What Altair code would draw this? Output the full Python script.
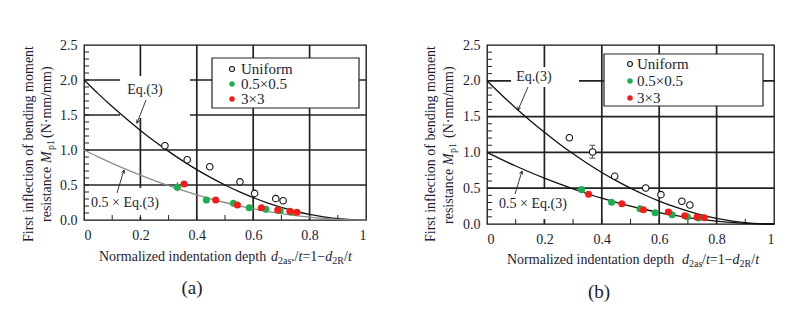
import math
import altair as alt
import pandas as pd

FONT = "'Liberation Serif', 'Times New Roman', serif"
TXT = "#1b1b38"
GREEN = "#1caf52"
RED = "#f41c18"
GRID = "#222222"

# theoretical curves
curve_x = [0.0, 0.05, 0.1, 0.15, 0.2, 0.25, 0.3, 0.35, 0.4, 0.45, 0.5,
           0.55, 0.6, 0.65, 0.7, 0.75, 0.8, 0.85, 0.9, 0.95, 1.0]
eq3_y = [2.0, 1.805, 1.62, 1.445, 1.28, 1.125, 0.98, 0.845, 0.72, 0.605, 0.5,
         0.405, 0.32, 0.245, 0.18, 0.125, 0.08, 0.045, 0.02, 0.005, 0.0]
half_eq3_y = [1.0, 0.9025, 0.81, 0.7225, 0.64, 0.5625, 0.49, 0.4225, 0.36, 0.3025, 0.25,
              0.2025, 0.16, 0.1225, 0.09, 0.0625, 0.04, 0.0225, 0.01, 0.0025, 0.0]

x_ticks = [0, 0.2, 0.4, 0.6, 0.8, 1]
y_ticks = [0, 0.5, 1.0, 1.5, 2.0, 2.5]
x_grid = [0.2, 0.4, 0.6, 0.8]
y_grid = [0.5, 1.0, 1.5, 2.0]
x_minor = [0.1, 0.2, 0.3, 0.4, 0.5, 0.6, 0.7, 0.8, 0.9]
y_minor = [0.1, 0.2, 0.3, 0.4, 0.5, 0.6, 0.7, 0.8, 0.9, 1.0, 1.1, 1.2, 1.3, 1.4,
           1.5, 1.6, 1.7, 1.8, 1.9, 2.0, 2.1, 2.2, 2.3, 2.4]

legend_labels = ["Uniform", "0.5×0.5", "3×3"]

# panel (a)
a_uni_x = [0.287, 0.366, 0.446, 0.553, 0.605, 0.680, 0.706]
a_uni_y = [1.06, 0.86, 0.76, 0.545, 0.38, 0.305, 0.275]
a_grn_x = [0.331, 0.434, 0.530, 0.586, 0.645, 0.696, 0.734]
a_grn_y = [0.467, 0.286, 0.238, 0.176, 0.152, 0.133, 0.114]
a_red_x = [0.355, 0.467, 0.544, 0.629, 0.687, 0.730, 0.755]
a_red_y = [0.514, 0.286, 0.214, 0.176, 0.143, 0.124, 0.110]
a_err = [0.331, 0.41, 0.54]

# panel (b)
b_uni_x = [0.287, 0.368, 0.445, 0.553, 0.606, 0.679, 0.707]
b_uni_y = [1.205, 1.006, 0.666, 0.503, 0.41, 0.317, 0.265]
b_grn_x = [0.330, 0.434, 0.533, 0.586, 0.645, 0.698, 0.736]
b_grn_y = [0.48, 0.303, 0.214, 0.158, 0.13, 0.102, 0.084]
b_red_x = [0.354, 0.470, 0.545, 0.632, 0.689, 0.732, 0.757]
b_red_y = [0.415, 0.284, 0.20, 0.168, 0.116, 0.098, 0.088]
b_err = [0.367, 0.92, 1.10]


def panel(W, H, uni_x, uni_y, grn_x, grn_y, red_x, red_y, err, err_caps,
          half_color, L):
    X = lambda px: px / W
    Y = lambda py: 2.5 * (1 - py / H)
    xs = alt.Scale(domain=[0, 1], nice=False, zero=False)
    ys = alt.Scale(domain=[0, 2.5], nice=False, zero=False)
    xax = alt.Axis(values=x_ticks, grid=False, ticks=False, domain=False,
                   labelFont=FONT, labelFontSize=14, labelColor=TXT, labelPadding=8,
                   title=None,
                   labelExpr="datum.value == 0 ? '0' : datum.value == 1 ? '1' : format(datum.value, '.1f')")
    yax = alt.Axis(values=y_ticks, grid=False, ticks=False, domain=False,
                   labelFont=FONT, labelFontSize=14, labelColor=TXT, labelPadding=7,
                   format=".1f", title=None)

    def ex(f="x"):
        return alt.X(f"{f}:Q", scale=xs, axis=xax, title=None)

    def ey(f="y"):
        return alt.Y(f"{f}:Q", scale=ys, axis=yax, title=None)

    layers = []
    # gridlines
    gx = pd.DataFrame({"x": x_grid, "y": [0.0] * len(x_grid), "y2": [2.5] * len(x_grid)})
    layers.append(alt.Chart(gx).mark_rule(color=GRID, strokeWidth=1.7).encode(
        x=ex(), y=ey(), y2="y2"))
    gy = pd.DataFrame({"y": y_grid, "x": [0.0] * len(y_grid), "x2": [1.0] * len(y_grid)})
    layers.append(alt.Chart(gy).mark_rule(color=GRID, strokeWidth=1.7).encode(
        x=ex(), x2="x2", y=ey()))

    # white boxes hiding gridlines behind labels / legend
    boxes = pd.DataFrame({
        "x": [X(b[0]) for b in L["boxes"]], "x2": [X(b[2]) for b in L["boxes"]],
        "y": [Y(b[1]) for b in L["boxes"]], "y2": [Y(b[3]) for b in L["boxes"]],
    })
    layers.append(alt.Chart(boxes).mark_rect(fill="white", strokeWidth=0).encode(
        x=ex(), x2="x2", y=ey(), y2="y2"))
    lb = L["legend"]
    lbox = pd.DataFrame({"x": [X(lb[0])], "x2": [X(lb[2])], "y": [Y(lb[1])], "y2": [Y(lb[3])]})
    layers.append(alt.Chart(lbox).mark_rect(fill="white", stroke="#222", strokeWidth=1.2).encode(
        x=ex(), x2="x2", y=ey(), y2="y2"))

    # minor ticks (inward)
    mx = pd.DataFrame({"x": x_minor, "y": [0.0] * len(x_minor),
                       "y2": [Y(H - 5)] * len(x_minor)})
    layers.append(alt.Chart(mx).mark_rule(color="#222", strokeWidth=1).encode(
        x=ex(), y=ey(), y2="y2"))
    my = pd.DataFrame({"y": y_minor, "x": [0.0] * len(y_minor),
                       "x2": [X(5)] * len(y_minor)})
    layers.append(alt.Chart(my).mark_rule(color="#222", strokeWidth=1).encode(
        x=ex(), x2="x2", y=ey()))

    # curves
    cdf = pd.DataFrame({"x": curve_x, "y": eq3_y, "h": half_eq3_y})
    layers.append(alt.Chart(cdf).mark_line(color="#111", strokeWidth=1.3, interpolate="monotone").encode(
        x=ex(), y=ey()))
    layers.append(alt.Chart(cdf).mark_line(color=half_color, strokeWidth=1.3, interpolate="monotone").encode(
        x=ex(), y=ey("h")))

    # error bar
    edf = pd.DataFrame({"x": [err[0]], "y": [err[1]], "y2": [err[2]]})
    layers.append(alt.Chart(edf).mark_rule(color="#555", strokeWidth=1).encode(
        x=ex(), y=ey(), y2="y2"))
    if err_caps:
        cap = pd.DataFrame({"x": [err[0] - X(3)] * 2, "x2": [err[0] + X(3)] * 2,
                            "y": [err[1], err[2]]})
        layers.append(alt.Chart(cap).mark_rule(color="#555", strokeWidth=1).encode(
            x=ex(), x2="x2", y=ey()))

    # data points
    layers.append(alt.Chart(pd.DataFrame({"x": uni_x, "y": uni_y})).mark_point(
        shape="circle", filled=False, color="#111", fill="white", fillOpacity=1,
        size=42, strokeWidth=1.1, opacity=1).encode(x=ex(), y=ey()))
    layers.append(alt.Chart(pd.DataFrame({"x": grn_x, "y": grn_y})).mark_circle(
        color=GREEN, size=50, opacity=1).encode(x=ex(), y=ey()))
    layers.append(alt.Chart(pd.DataFrame({"x": red_x, "y": red_y})).mark_circle(
        color=RED, size=50, opacity=1).encode(x=ex(), y=ey()))

    # legend entries
    mxp, rows, tx = L["lmark"]
    layers.append(alt.Chart(pd.DataFrame({"x": [X(mxp)], "y": [Y(rows[0])]})).mark_point(
        shape="circle", filled=False, color="#111", size=24, strokeWidth=1.1, opacity=1).encode(x=ex(), y=ey()))
    layers.append(alt.Chart(pd.DataFrame({"x": [X(mxp)], "y": [Y(rows[1])]})).mark_circle(
        color=GREEN, size=30, opacity=1).encode(x=ex(), y=ey()))
    layers.append(alt.Chart(pd.DataFrame({"x": [X(mxp)], "y": [Y(rows[2])]})).mark_circle(
        color=RED, size=30, opacity=1).encode(x=ex(), y=ey()))
    ltxt = pd.DataFrame({"x": [X(tx)] * 3, "y": [Y(r) for r in rows], "t": legend_labels})
    layers.append(alt.Chart(ltxt).mark_text(font=FONT, fontSize=15, color=TXT, align="left",
                                            baseline="middle").encode(x=ex(), y=ey(), text="t:N"))

    # arrows
    for (sx, sy, tx_, ty_) in L["arrows"]:
        adf = pd.DataFrame({"x": [X(sx)], "y": [Y(sy)], "x2": [X(tx_)], "y2": [Y(ty_)]})
        layers.append(alt.Chart(adf).mark_rule(color="#222", strokeWidth=0.9).encode(
            x=ex(), y=ey(), x2="x2", y2="y2"))
        ang = math.degrees(math.atan2(tx_ - sx, -(ty_ - sy))) % 360
        hdf = pd.DataFrame({"x": [X(tx_)], "y": [Y(ty_)]})
        layers.append(alt.Chart(hdf).mark_point(
            shape="M -0.5 1 L 0 0 L 0.5 1", filled=False, color="#222", size=40,
            strokeWidth=0.9, angle=ang, opacity=1).encode(x=ex(), y=ey()))

    def center_text(rows, size=14, angle=0):
        df = pd.DataFrame({"x": [X(r[0]) for r in rows], "y": [Y(r[1]) for r in rows],
                           "t": [r[2] for r in rows]})
        return alt.Chart(df).mark_text(font=FONT, fontSize=size, color=TXT, align="center",
                                       baseline="middle", angle=angle).encode(
            x=ex(), y=ey(), text="t:N")

    def left_text(rows, size=14, angle=0, italic=False):
        df = pd.DataFrame({"x": [X(r[0]) for r in rows], "y": [Y(r[1]) for r in rows],
                           "t": [r[2] for r in rows]})
        kw = {"fontStyle": "italic"} if italic else {}
        return alt.Chart(df).mark_text(font=FONT, fontSize=size, color=TXT, align="left",
                                       baseline="middle", angle=angle, **kw).encode(
            x=ex(), y=ey(), text="t:N")

    layers.append(center_text(L["ctexts"]))
    layers.append(center_text([L["tag"]], size=19))
    layers.append(center_text([L["yt1"]], angle=270))
    layers.append(left_text(L["yt2_norm"], angle=270))
    layers.append(left_text(L["yt2_ital"], angle=270, italic=True))
    layers.append(left_text(L["yt2_sub"], size=10, angle=270))
    layers.append(left_text(L["xt_norm"]))
    layers.append(left_text(L["xt_ital"], italic=True))
    layers.append(left_text(L["xt_sub"], size=10))

    return alt.layer(*layers).properties(width=W, height=H)


LA = {
    "boxes": [(36, 31, 106, 73), (5, 143, 80, 172)],
    "legend": (128, 13, 275, 63),
    "lmark": (148, [24, 39, 54], 157),
    "arrows": [(62, 55, 53, 78), (33, 148, 40, 125)],
    "ctexts": [(61, 45, "Eq.(3)"), (41, 158, "0.5 × Eq.(3)")],
    "tag": (108, 243, "(a)"),
    "yt1": (-55, 99, "First inflection of bending moment"),
    "yt2_norm": [(-37, 177, "resistance"), (-37, 93, "(N·mm/mm)")],
    "yt2_ital": [(-37, 118, "M")],
    "yt2_sub": [(-33, 105, "p1")],
    "xt_norm": [(15, 212, "Normalized indentation depth"), (207, 212, "./"),
                (218.4, 212, "=1−"), (260, 212, "/")],
    "xt_ital": [(187, 212, "d"), (214.5, 212, "t"), (241.2, 212, "d"), (263.9, 212, "t")],
    "xt_sub": [(194, 216, "2as"), (248.2, 216, "2R")],
}

LB = {
    "boxes": [(24, 22, 92, 42), (8, 144, 84, 174)],
    "legend": (117, 9, 276, 61),
    "lmark": (143, [19, 36, 53], 150),
    "arrows": [(41, 42, 31, 65), (28, 149, 35, 126)],
    "ctexts": [(47, 32, "Eq.(3)"), (46, 159, "0.5 × Eq.(3)")],
    "tag": (112, 247, "(b)"),
    "yt1": (-56, 99, "First inflection of bending moment"),
    "yt2_norm": [(-38, 179, "resistance"), (-38, 93, "(N·mm/mm)")],
    "yt2_ital": [(-38, 120, "M")],
    "yt2_sub": [(-34, 108, "p1")],
    "xt_norm": [(20, 215, "Normalized indentation depth"), (215, 215, "/"),
                (222.8, 215, "=1−"), (264.3, 215, "/")],
    "xt_ital": [(195, 215, "d"), (218.9, 215, "t"), (245.6, 215, "d"), (268.2, 215, "t")],
    "xt_sub": [(202, 219, "2as"), (252.6, 219, "2R")],
}

pa = panel(282, 175, a_uni_x, a_uni_y, a_grn_x, a_grn_y, a_red_x, a_red_y,
           a_err, False, "#8c8c8c", LA)
pb = panel(287, 179, b_uni_x, b_uni_y, b_grn_x, b_grn_y, b_red_x, b_red_y,
           b_err, True, "#111", LB)

chart = alt.hconcat(pa, pb, spacing=53).properties(
    padding={"left": 13, "top": 29, "right": 5, "bottom": 5},
    background="white",
).configure_view(stroke="#111", strokeWidth=1.3)

chart.save("out.html", embed_options={"renderer": "svg", "actions": False})
